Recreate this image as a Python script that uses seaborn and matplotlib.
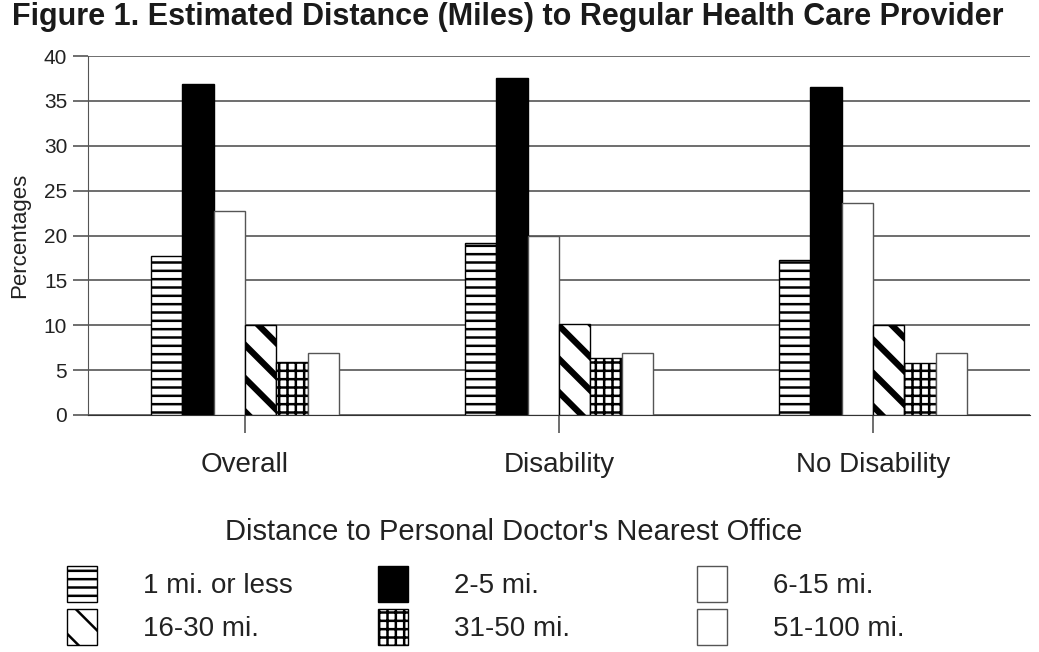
import pandas as pd
import matplotlib.pyplot as plt
import seaborn as sns
from matplotlib.patches import Patch

# Values (percentages)
groups = ["Overall", "Disability", "No Disability"]
distances = ["1 mi. or less", "2-5 mi.", "6-15 mi.", "16-30 mi.", "31-50 mi.", "51-100 mi."]
overall = [17.7, 36.9, 22.7, 10.0, 5.9, 6.9]
disability = [19.2, 37.6, 20.0, 10.1, 6.4, 6.9]
no_disability = [17.3, 36.6, 23.6, 10.0, 5.8, 6.9]

fills = ["white", "black", "white", "white", "white", "white"]
hatches = ["--", None, None, "\\", "++", None]
hatch_lw = [1.8, 1.0, 1.0, 4.5, 1.8, 1.0]
edges = ["black", "black", "#555555", "black", "black", "#555555"]

rows = []
for g, vals in zip(groups, [overall, disability, no_disability]):
    for d, v in zip(distances, vals):
        rows.append({"group": g, "distance": d, "pct": v})
df = pd.DataFrame(rows)

sns.set_style("white")
plt.rcParams["font.family"] = ["Liberation Sans", "DejaVu Sans"]
plt.rcParams["hatch.linewidth"] = 1.8

fig = plt.figure(figsize=(10.39, 6.52), dpi=100)
ax = fig.add_axes([88 / 1039, 1 - 415 / 652, (1030 - 88) / 1039, (415 - 56) / 652])

sns.barplot(data=df, x="group", y="pct", hue="distance", order=groups,
            hue_order=distances, palette=dict(zip(distances, fills)),
            width=0.6, gap=0, legend=False, saturation=1, ax=ax)


def style_patch(p, i):
    p.set_edgecolor(edges[i])
    p.set_linewidth(1.0)
    if hatches[i]:
        p.set_hatch(hatches[i])
        if hasattr(p, "set_hatch_linewidth"):
            p.set_hatch_linewidth(hatch_lw[i])


for i, cont in enumerate(ax.containers):
    for bar in cont:
        style_patch(bar, i)
        bar.set_zorder(3)

ax.set_xlim(-0.5, 2.5)
ax.set_ylim(0, 40)
ax.set_yticks(range(0, 41, 5))
ax.yaxis.grid(True, color="#555555", linewidth=1.2, zorder=0)
ax.set_axisbelow(True)
for s in ["top", "right"]:
    ax.spines[s].set_visible(False)
ax.spines["left"].set_color("#555555")
ax.spines["bottom"].set_color("#333333")
ax.tick_params(axis="y", left=True, direction="out", length=11, width=1.2, color="#555555",
               labelsize=15, labelcolor="#222222", pad=4)
ax.tick_params(axis="x", bottom=True, direction="out", length=13, width=1.2, color="#555555",
               labelsize=20, labelcolor="#222222", pad=14)
ax.set_xlabel("")
ax.set_ylabel("Percentages", fontsize=16, color="#222222")
ax.yaxis.set_label_coords(-58 / 942, 0.5)

fig.text(12 / 1039, 1 - 17 / 652, "Figure 1. Estimated Distance (Miles) to Regular Health Care Provider",
         fontsize=22, fontweight="bold", va="center", ha="left", color="#1a1a1a")

fig.text(514 / 1039, 1 - 532 / 652, "Distance to Personal Doctor's Nearest Office",
         fontsize=21, ha="center", va="center", color="#222222")

# legend: three columns of two rows, laid out like the reference
cols = [[0, 3], [1, 4], [2, 5]]
col_x = [67 / 1039, 378 / 1039, 697 / 1039]
for xpos, idx in zip(col_x, cols):
    handles = []
    for i in idx:
        p = Patch(facecolor=fills[i], linewidth=1.0)
        style_patch(p, i)
        handles.append(p)
    leg = fig.legend(handles, [distances[i] for i in idx], loc="upper left",
                     bbox_to_anchor=(xpos, 1 - 566 / 652), frameon=False,
                     fontsize=20, handlelength=1.08, handleheight=1.62,
                     handletextpad=1.65, labelspacing=0.25, borderpad=0, borderaxespad=0)
    for t in leg.get_texts():
        t.set_color("#222222")

fig.savefig("out.png", dpi=100)
